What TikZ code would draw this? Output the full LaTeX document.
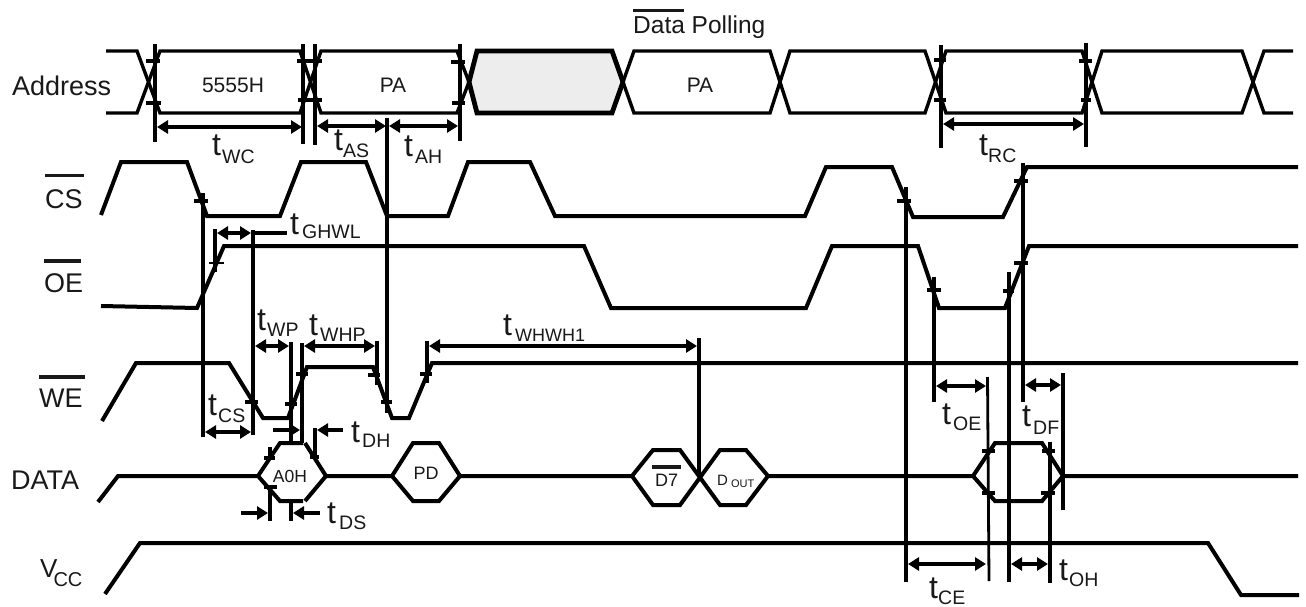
\documentclass[tikz,border=0pt]{standalone}
\usepackage{fontspec}
\setmainfont{Liberation Sans}
\usetikzlibrary{arrows.meta}
\newcommand{\fsz}[1]{\fontsize{#1}{#1}\selectfont}
\newcommand{\tsubs}[4]{\rlap{\fsz{32}t}\kern#1pt\raisebox{-#2pt}{\fsz{#4}#3}}
\newcommand{\tsub}[3]{\tsubs{#1}{#2}{#3}{19.5}}
\newcommand{\ovl}[2]{\rlap{\rule[#1]{#2}{3.2pt}}}
\tikzset{
  sig/.style={line width=4pt,line join=miter,miter limit=3},
  sigthick/.style={line width=4.8pt,line join=miter,miter limit=3},
  sigthin/.style={line width=3.4pt},
  vln/.style={line width=4pt},
  vthin/.style={line width=2.8pt},
  tk/.style={line width=3.6pt},
  tkthin/.style={line width=1.2pt},
  dim/.style={line width=3.4pt,{Triangle[length=11pt,width=13pt]}-{Triangle[length=11pt,width=13pt]}},
  dimend/.style={line width=3.4pt,-{Triangle[length=11pt,width=13pt]}},
  lab/.style={inner sep=0pt,anchor=base west,text=black!90,font=\fsz{27}},
  val/.style={inner sep=0pt,anchor=base,text=black!90,font=\fsz{21}},
  tlab/.style={inner sep=0pt,anchor=base west,text=black!90}
}
\begin{document}
\begin{tikzpicture}[x=1pt,y=-1pt]
\useasboundingbox (0,0) rectangle (1306,607);
\fill[white] (0,0) rectangle (1306,607);
% Address bus
\fill[black!7] (465,82) -- (477,51) -- (612,51) -- (623,82) -- (612,113) -- (477,113) -- cycle;
\draw[sigthin] (106,51) -- (137,51) -- (160,113) -- (300,113) -- (321,51) -- (457,51) -- (469,82);
\draw[sigthin] (106,113) -- (137,113) -- (160,51) -- (300,51) -- (321,113) -- (457,113) -- (469,82);
\draw[sigthick] (469,82) -- (477,51) -- (612,51) -- (623,82);
\draw[sigthick] (469,82) -- (477,113) -- (612,113) -- (623,82);
\draw[sigthin] (612,51) -- (634,113) -- (770,113) -- (790,51) -- (925,51) -- (946,113) -- (1082,113) -- (1102,51) -- (1242,51) -- (1264,113) -- (1293,113);
\draw[sigthin] (612,113) -- (634,51) -- (770,51) -- (790,113) -- (925,113) -- (946,51) -- (1082,51) -- (1102,113) -- (1242,113) -- (1264,51) -- (1293,51);
% CS
\draw[sig] (101,215) -- (121,162) -- (187,162) -- (207,216) -- (280,216) -- (301,162) -- (366,162) -- (387,216) -- (448,216) -- (468,162) -- (530,162) -- (555,216) -- (805,216) -- (826,167) -- (892,167) -- (913,217) -- (1003,217) -- (1027,167) -- (1298,167);
% OE
\draw[sig] (101,306) -- (197,308) -- (224,246) -- (584,246) -- (611,308) -- (806,308) -- (832,246) -- (918,246) -- (939,308) -- (1005,308) -- (1029,246) -- (1298,246);
% WE
\draw[sig] (102,421) -- (136,363) -- (229,363) -- (263,418) -- (288,418) -- (307,367) -- (373,367) -- (392,418) -- (409,418) -- (432,363) -- (1298,363);
% DATA
\draw[sig] (98,502) -- (118,476) -- (258,476) -- (280,443) -- (303,443);
\draw[sig] (305,443) -- (326,476) -- (392,476) -- (413,443) -- (439,443) -- (460,476) -- (632,476) -- (653,450) -- (680,450) -- (720,505) -- (746,505) -- (768,476) -- (973,476) -- (995,443) -- (1042,443) -- (1063,476) -- (1298,476);
\draw[sig] (258,476) -- (280,501) -- (303,501);
\draw[sig] (305,501) -- (326,476);
\draw[sig] (392,476) -- (413,501) -- (439,501) -- (460,476);
\draw[sig] (632,476) -- (653,505) -- (680,505) -- (720,450) -- (746,450) -- (768,476);
\draw[sig] (973,476) -- (995,501) -- (1042,501) -- (1063,476);
% VCC
\draw[sig] (105,594) -- (140,543) -- (1208,543) -- (1241,595) -- (1299,595);
% verticals
\foreach \xx/\ya/\yb in {155/44/142,303/44/144,315/44/145,460/44/141,941/45/148,1086/43/147,387/118/413,203/193/437,253/230/435,291/342/443,291/502/521,302/343/443,377/341/385,427/341/383,699/338/476,270/447/458,270/487/521,315/428/458,906/187/582,934/277/402,1009/272/582,1023/163/402,1063/373/510,1050/442/583}
  \draw[vln] (\xx,\ya) -- (\xx,\yb);
\draw[vln] (215,229) -- (215,272);
\draw[vthin] (987.5,377) -- (989,581);
% ticks
\foreach \xa/\xb/\yy in {146/160/61,146/161/103,297/322/61,298/322/100,451/465/62,452/465/103,934/946/60,934/946/100,1079/1092/61,1081/1091/100,194/208/201,245/258/402,285/297/404,296/308/374,368/380/375,381/392/402,420/432/374,310/319/457,264/275/458,264/277/487,897/911/201,927/941/290,982/995/451,982/995/493,1003/1014/291,1014/1028/181,1014/1028/263,1042/1055/451,1041/1055/493}
  \draw[tk] (\xa,\yy) -- (\xb,\yy);
\draw[tkthin] (209,263) -- (224,263);
% dimension arrows
\coordinate (twcA) at (157,127); \coordinate (twcB) at (302,127);
\draw[dim] (twcA) -- (twcB);
\coordinate (tasA) at (317,126); \coordinate (tasB) at (386,126);
\draw[dim] (tasA) -- (tasB);
\coordinate (tahA) at (389,126); \coordinate (tahB) at (458,126);
\draw[dim] (tahA) -- (tahB);
\coordinate (trcA) at (943,124); \coordinate (trcB) at (1084,124);
\draw[dim] (trcA) -- (trcB);
\coordinate (tghA) at (217,233); \coordinate (tghB) at (251,233);
\draw[dim] (tghA) -- (tghB);
\coordinate (tghC) at (287,233);
\draw[vln] (tghB) -- (tghC);
\coordinate (tcsA) at (205,432); \coordinate (tcsB) at (251,432);
\draw[dim] (tcsA) -- (tcsB);
\coordinate (twpA) at (255,346); \coordinate (twpB) at (289,346);
\draw[dim] (twpA) -- (twpB);
\coordinate (twhA) at (304,346); \coordinate (twhB) at (375,346);
\draw[dim] (twhA) -- (twhB);
\coordinate (twwA) at (429,346); \coordinate (twwB) at (697,346);
\draw[dim] (twwA) -- (twwB);
\coordinate (tdhA) at (273,430); \coordinate (tdhB) at (300,430);
\draw[dimend] (tdhA) -- (tdhB);
\coordinate (tdhC) at (343,430); \coordinate (tdhD) at (317,430);
\draw[dimend] (tdhC) -- (tdhD);
\coordinate (tdsA) at (241,513); \coordinate (tdsB) at (268,513);
\draw[dimend] (tdsA) -- (tdsB);
\coordinate (tdsC) at (320,513); \coordinate (tdsD) at (293,513);
\draw[dimend] (tdsC) -- (tdsD);
\coordinate (toeA) at (936,386); \coordinate (toeB) at (986,386);
\draw[dim] (toeA) -- (toeB);
\coordinate (tdfA) at (1025,385); \coordinate (tdfB) at (1061,385);
\draw[dim] (tdfA) -- (tdfB);
\coordinate (tceA) at (908,564); \coordinate (tceB) at (986,564);
\draw[dim] (tceA) -- (tceB);
\coordinate (tohA) at (1011,564); \coordinate (tohB) at (1048,564);
\draw[dim] (tohA) -- (tohB);
% left labels
\node[lab] (lAddr) at (12,96) {Address};
\node[lab] (lCS) at (45,208) {\ovl{31pt}{39pt}CS};
\node[lab] (lOE) at (44,292) {\ovl{29.5pt}{37pt}OE};
\node[lab] (lWE) at (39,407) {\ovl{28.5pt}{46pt}WE};
\node[lab] (lDATA) at (11,489) {DATA};
\node[inner sep=0pt,anchor=base west,text=black!90,font=\fsz{26}] (lVCC) at (40,577) {V\kern-4pt\raisebox{-9pt}{\fsz{20}CC}};
% top caption
\node[inner sep=0pt,anchor=base west,text=black!90,font=\fsz{24.5}] (cap) at (633,34) {\ovl{21.5pt}{51pt}Data Polling};
% bus values
\node[val] (v5555) at (233,93) {5555H};
\node[val] (vPA1) at (393,93) {PA};
\node[val] (vPA2) at (700,93) {PA};
% data values
\node[inner sep=0pt,anchor=base,text=black!90,font=\fsz{17.5}] (vA0H) at (290,482) {A0H};
\node[inner sep=0pt,anchor=base,text=black!90,font=\fsz{18}] (vPD) at (426,479) {PD};
\node[inner sep=0pt,anchor=base west,text=black!90,font=\fsz{18}] (vD7) at (655,486) {\rlap{\kern-3pt\rule[17.5pt]{29pt}{3.2pt}}D7};
\node[inner sep=0pt,anchor=base west,text=black!90,font=\fsz{15}] (vDO) at (717,485) {D\kern3pt\raisebox{-2pt}{\fsz{11}OUT}};
% timing labels
\node[tlab] (tWC) at (212,156) {\tsub{10}{8}{WC}};
\node[tlab] (tAS) at (334,150) {\tsub{9}{7}{AS}};
\node[tlab] (tAH) at (404,157) {\tsub{11}{6}{AH}};
\node[tlab] (tRC) at (979,155) {\tsub{9}{7}{RC}};
\node[tlab] (tGH) at (290,234) {\tsub{12}{4}{GHWL}};
\node[tlab] (tWP) at (257,330) {\tsub{10}{6}{WP}};
\node[tlab] (tWHP) at (309,335) {\tsub{11}{6}{WHP}};
\node[tlab] (tWW) at (503,335) {\tsubs{12}{6}{WHWH1}{18}};
\node[tlab] (tCS) at (208,415) {\tsub{10}{7}{CS}};
\node[tlab] (tDH) at (351,442) {\tsub{11}{5}{DH}};
\node[tlab] (tDS) at (327,523) {\tsub{12}{6}{DS}};
\node[tlab] (tOE) at (942,424) {\tsub{11}{6}{OE}};
\node[tlab] (tDF) at (1022,426) {\tsub{11}{8}{DF}};
\node[tlab] (tCE) at (929,598) {\tsub{9}{6}{CE}};
\node[tlab] (tOH) at (1059,580) {\tsub{10}{6}{OH}};
\end{tikzpicture}
\end{document}
